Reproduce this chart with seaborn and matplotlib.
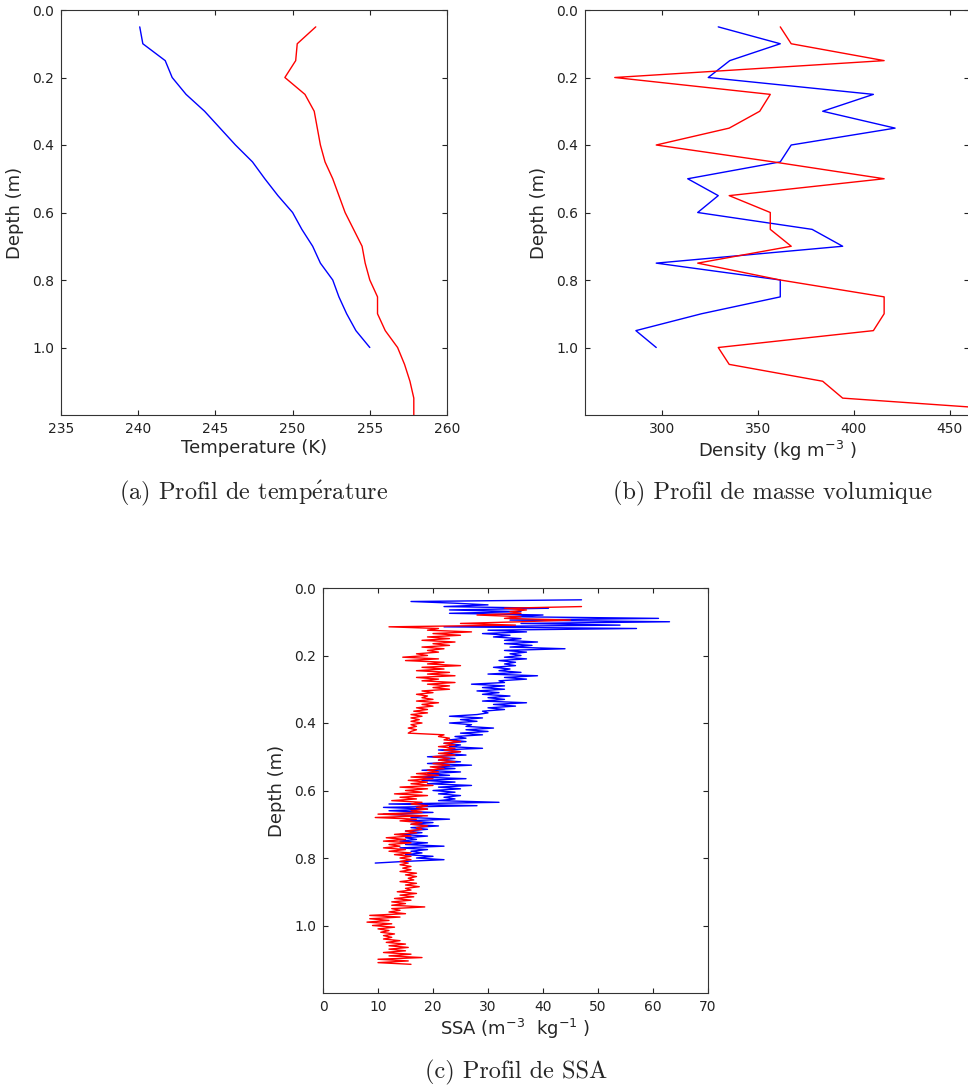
import numpy as np
import pandas as pd
import matplotlib
matplotlib.use("Agg")
import matplotlib.pyplot as plt
import seaborn as sns

# ---------------- Panel (a): temperature profiles ----------------
temp_depth_blue = [0.05, 0.10, 0.15, 0.20, 0.25, 0.30, 0.35, 0.40, 0.45, 0.50,
                   0.55, 0.60, 0.65, 0.70, 0.75, 0.80, 0.85, 0.90, 0.95, 1.00]
temp_blue = [240.1, 240.3, 241.75, 242.2, 243.1, 244.3, 245.3, 246.3, 247.4, 248.2,
             249.05, 250.0, 250.6, 251.3, 251.8, 252.6, 253.0, 253.5, 254.1, 255.0]
temp_depth_red = [0.05, 0.10, 0.15, 0.20, 0.25, 0.30, 0.35, 0.40, 0.45, 0.50,
                  0.55, 0.60, 0.65, 0.70, 0.75, 0.80, 0.85, 0.90, 0.95, 1.00,
                  1.05, 1.10, 1.15, 1.20]
temp_red = [251.5, 250.3, 250.2, 249.5, 250.8, 251.4, 251.6, 251.8, 252.1, 252.6,
            253.0, 253.4, 253.95, 254.5, 254.7, 255.0, 255.5, 255.5, 256.0, 256.8,
            257.25, 257.6, 257.85, 257.85]

# ---------------- Panel (b): density profiles ----------------
dens_depth_blue = temp_depth_blue
dens_blue = [329.4, 361.7, 335.4, 324.2, 410.2, 383.8, 421.5, 367.4, 361.7, 313.5,
             329.4, 318.7, 378.3, 394.2, 297.1, 361.7, 361.7, 320.7, 286.5, 297.1]
dens_depth_red = temp_depth_red
dens_red = [361.7, 367.4, 415.8, 275.5, 356.5, 351.0, 335.1, 297.1, 358.0, 415.8,
            335.1, 356.5, 356.5, 367.4, 318.7, 361.7, 415.8, 415.8, 410.2, 329.4,
            335.1, 383.8, 394.2, 520.0]

# ---------------- Panel (c): SSA profiles ----------------
ssa_step = 0.005
ssa_blue_top = 0.035
ssa_blue = [47, 16, 24, 30, 22, 41, 23, 36, 23, 40, 34, 61, 34, 63,
            36, 54, 22, 57, 30, 37, 29, 34, 31, 36, 33, 39, 33, 38, 34, 44, 33, 37, 34, 36,
            33, 37, 32, 35, 33, 35, 31, 34, 32, 36, 30, 39, 33, 37, 32, 33, 27, 33, 29, 33,
            28, 32, 29, 34, 30, 33, 29, 37, 31, 35, 30, 33, 29, 30, 28, 23, 29, 25, 28, 23,
            27, 26, 31, 26, 30, 25, 29, 24, 26, 23, 26, 22, 25, 23, 29, 21, 25, 22, 26, 19,
            24, 21, 25, 19, 27, 20, 24, 18, 25, 19, 23, 17, 26, 18, 24, 19, 27, 21, 25, 20,
            24, 21, 25, 22, 24, 21, 32, 12, 28, 11, 19, 12, 20, 11, 18, 16, 23, 15, 20, 16,
            21, 16, 19, 15, 18, 14, 19, 15, 17, 14, 19, 15, 22, 14, 19, 16, 18, 15, 20, 17,
            22, 15, 9.5]
ssa_red_top = 0.055
ssa_red = [47, 33, 37, 34, 36, 28, 36, 33, 45, 36,
           25, 35, 12, 21, 19, 27, 20, 25, 19, 23, 18, 24, 20, 23, 18, 22, 19, 21, 17, 19,
           14.5, 21, 15, 22, 19, 25, 18, 22, 17, 23, 19, 24, 17, 21, 18, 24, 19, 23, 20, 23,
           18, 20, 17, 19, 18, 20, 17, 21, 18, 20, 17, 19, 16.5, 19, 16, 18, 16, 17.5, 16, 18,
           16, 17, 15.5, 17, 16, 15.5, 22, 21, 23, 22, 25, 22, 24, 21, 24, 22, 25, 21, 24, 20,
           23, 21, 24, 20, 23, 19.5, 22, 19, 21, 17, 21, 16, 20, 15.5, 19, 16, 20, 14, 19, 15,
           18, 13, 19, 14, 17, 12.5, 18, 16, 19, 17, 19, 16, 18, 10, 19, 9.5, 17, 14, 18, 16,
           19, 17, 18, 15, 17, 13, 16, 11.5, 15, 11, 16, 12, 14, 11, 15, 12, 16, 13, 16, 14,
           16, 14, 15.5, 14, 16, 14.5, 16, 14, 17, 15, 17, 15.5, 16.5, 14, 17, 15, 17.5, 15, 16, 13.5,
           17, 14, 16.5, 13, 16, 12.5, 15, 12.5, 18.5, 12.5, 14, 12, 15, 8.5, 14, 8.5, 12, 8, 12.5, 9,
           13, 10, 12, 10.5, 13, 11, 12.5, 11, 14, 11.5, 15, 12, 15.5, 12, 15, 11, 16, 12, 18, 10,
           15.5, 10, 16]
ssa_depth_blue = ssa_blue_top + ssa_step * np.arange(len(ssa_blue))
ssa_depth_red = ssa_red_top + ssa_step * np.arange(len(ssa_red))

depth_ticks = [0.0, 0.2, 0.4, 0.6, 0.8, 1.0]
temp_ticks = [235, 240, 245, 250, 255, 260]
dens_ticks = [300, 350, 400, 450]
ssa_ticks = [0, 10, 20, 30, 40, 50, 60, 70]

captions = [r"(a) Profil de temp$\acute{\mathrm{e}}$rature",
            "(b) Profil de masse volumique",
            "(c) Profil de SSA"]

# ---------------- style ----------------
sns.set_style("ticks", rc={
    "xtick.direction": "in", "ytick.direction": "in",
    "xtick.top": True, "ytick.right": True,
    "axes.edgecolor": "#333333", "axes.linewidth": 1.0,
    "xtick.major.size": 4, "ytick.major.size": 4,
    "xtick.major.width": 0.6, "ytick.major.width": 0.6,
    "xtick.color": "#222222", "ytick.color": "#222222",
})
plt.rcParams["font.family"] = ["DejaVu Sans"]
plt.rcParams["mathtext.fontset"] = "dejavusans"

fig = plt.figure(figsize=(9.68, 10.89), dpi=100)
W, H = 968.0, 1089.0

def make_axes(left, top, right, bottom):
    return fig.add_axes([left / W, 1 - bottom / H, (right - left) / W, (bottom - top) / H])

ax_a = make_axes(61, 10, 447, 415)
ax_b = make_axes(585, 10, 969, 415)
ax_c = make_axes(323, 588, 708, 993)

def draw(ax, x, y, color):
    df = pd.DataFrame({"x": x, "y": y})
    sns.lineplot(data=df, x="x", y="y", ax=ax, color=color, lw=1.0,
                 estimator=None, sort=False, orient="y")

draw(ax_a, temp_blue, temp_depth_blue, "blue")
draw(ax_a, temp_red, temp_depth_red, "red")
draw(ax_b, dens_blue, dens_depth_blue, "blue")
draw(ax_b, dens_red, dens_depth_red, "red")
draw(ax_c, ssa_blue, ssa_depth_blue, "blue")
draw(ax_c, ssa_red, ssa_depth_red, "red")

ax_a.set_xlim(235, 260)
ax_a.set_xticks(temp_ticks)
ax_b.set_xlim(260, 460)
ax_b.set_xticks(dens_ticks)
ax_c.set_xlim(0, 70)
ax_c.set_xticks(ssa_ticks)

for ax in (ax_a, ax_b, ax_c):
    ax.set_ylim(1.2, 0.0)
    ax.set_yticks(depth_ticks)
    ax.set_yticklabels([f"{t:.1f}" for t in depth_ticks])
    ax.tick_params(labelsize=10, pad=5)
    ax.set_ylabel("Depth (m)", fontsize=13, labelpad=6)
    for s in ax.spines.values():
        s.set_visible(True)

ax_a.set_xlabel("Temperature (K)", fontsize=13, labelpad=2)
ax_b.set_xlabel(r"Density (kg m$^{-3}$ )", fontsize=13, labelpad=2)
ax_c.set_xlabel(r"SSA (m$^{-3}$  kg$^{-1}$ )", fontsize=13, labelpad=2)

cap_font = ["cmr10", "DejaVu Serif"]
cap_kw = dict(ha="center", va="center", fontsize=17.5, family=cap_font, math_fontfamily="cm")
fig.text(254 / W, 1 - 493 / H, captions[0], **cap_kw)
fig.text(773 / W, 1 - 493 / H, captions[1], **cap_kw)
fig.text(516 / W, 1 - 1072 / H, captions[2], **cap_kw)

fig.savefig("out.png", dpi=100)
